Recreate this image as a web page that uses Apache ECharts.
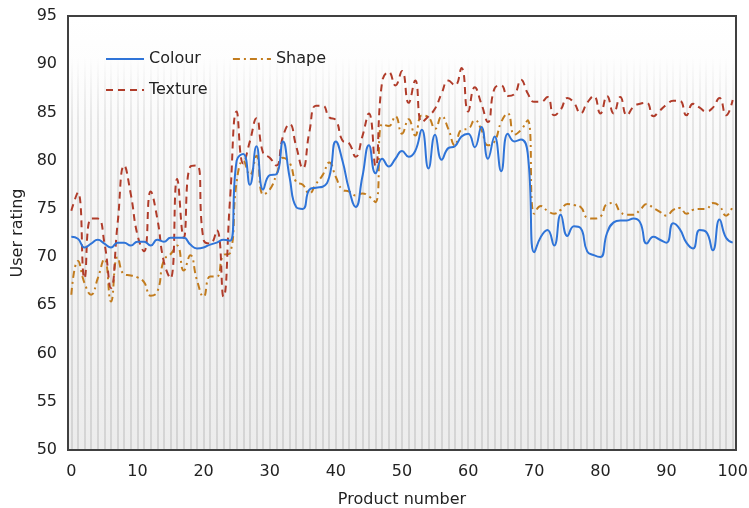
<!DOCTYPE html>
<html>
<head>
<meta charset="utf-8">
<script src="https://cdn.jsdelivr.net/npm/echarts@6/dist/echarts.min.js"></script>
<style>
html,body{margin:0;padding:0;background:#fff;}
#chart{width:749px;height:508px;}
</style>
</head>
<body>
<div id="chart"></div>
<script>
const categories = Array.from({length: 101}, (_, i) => String(i));

const colour = [
72.1,71.9,71.0,71.4,71.8,71.4,71.0,71.5,71.5,71.2,
71.6,71.6,71.2,71.8,71.6,72.0,72.0,72.0,71.3,70.9,
71.0,71.3,71.5,71.8,71.7,80.0,80.7,77.5,81.5,77.0,
78.5,78.6,82.0,78.3,75.2,75.0,77.0,77.2,77.3,78.3,
82.0,80.0,77.0,75.2,78.3,81.6,78.7,80.2,79.4,80.2,
81.0,80.4,81.0,83.2,79.2,82.7,80.1,81.3,81.5,82.5,
82.8,81.4,83.5,80.2,82.5,78.9,82.8,82.0,82.2,80.8,
70.5,72.1,72.8,71.2,74.4,72.2,73.2,73.0,70.6,70.2,
70.0,72.5,73.6,73.8,73.8,74.0,73.6,71.4,72.1,71.8,
71.5,73.5,72.9,71.5,70.9,72.8,72.6,70.7,73.9,72.0,
71.5
];

const shape = [
66.1,69.6,67.3,66.1,67.8,69.8,65.4,70.0,68.2,68.1,
67.9,67.4,66.0,66.4,69.7,70.3,71.2,68.6,70.2,67.6,
65.9,68.0,68.0,70.2,70.4,77.8,80.0,78.5,80.5,76.5,
77.0,78.5,80.3,79.8,77.8,77.5,76.6,77.6,78.5,79.8,
78.3,77.0,76.8,76.4,76.6,76.3,75.7,83.8,83.6,84.6,
82.8,84.3,82.6,84.7,84.5,83.3,84.6,83.3,81.6,83.2,
83.3,84.2,83.2,81.6,82.0,84.0,84.9,82.7,83.2,84.2,
74.5,75.3,74.8,74.5,74.9,75.5,75.4,75.2,74.1,74.0,
74.2,75.5,75.6,74.7,74.4,74.4,74.9,75.5,75.1,74.7,
74.3,74.9,75.1,74.5,74.9,75.0,75.0,75.6,75.3,74.3,
75.3
];

const texture = [
74.8,76.7,67.8,74.0,74.0,71.5,66.8,73.5,79.5,76.5,
72.3,70.6,76.8,74.0,69.5,67.8,78.1,72.0,79.4,79.5,
71.8,71.4,72.8,65.9,76.0,85.1,79.7,82.0,84.4,80.8,
80.3,79.5,82.5,83.8,81.5,79.2,83.0,85.7,85.7,84.5,
84.2,82.1,81.8,80.4,82.5,84.9,79.4,88.2,89.2,87.8,
89.3,86.0,88.3,84.0,84.6,85.4,87.0,88.3,87.8,89.6,
85.1,87.6,85.9,84.0,87.5,87.8,86.7,86.9,88.4,87.0,
86.1,86.1,86.6,84.7,85.3,86.5,86.0,84.9,86.0,86.7,
84.9,86.7,84.9,86.6,84.7,85.6,85.9,86.0,84.6,85.2,
85.8,86.2,86.2,84.7,85.9,85.5,85.1,85.5,86.5,84.7,
86.3
];

const yTicks = {min: 50, max: 95, step: 5};
const xLabelEvery = 10;

const FONT = 'DejaVu Sans';
const chart = echarts.init(document.getElementById('chart'), null, {renderer: 'canvas'});

const legendCommon = {
  padding: 0,
  itemWidth: 38, itemHeight: 14,
  itemStyle: {color: 'rgba(0,0,0,0)', borderWidth: 0, opacity: 0},
  textStyle: {fontFamily: FONT, fontSize: 16, color: '#222'}
};

const option = {
  animation: false,
  backgroundColor: '#ffffff',
  textStyle: {fontFamily: FONT},
  grid: {
    left: 68, right: 13, top: 16, bottom: 58,
    outerBoundsMode: 'none',
    containLabel: false,
    show: true,
    borderColor: '#404040',
    borderWidth: 2,
    backgroundColor: new echarts.graphic.LinearGradient(0, 0, 0, 1, [
      {offset: 0, color: '#ffffff'},
      {offset: 0.12, color: '#fdfdfd'},
      {offset: 1, color: '#ececec'}
    ])
  },
  legend: [
    Object.assign({}, legendCommon, {
      data: ['Colour', 'Shape'],
      left: 105, top: 51, itemGap: 31
    }),
    Object.assign({}, legendCommon, {
      data: ['Texture'],
      left: 105, top: 82
    })
  ],
  xAxis: {
    type: 'category',
    data: categories,
    boundaryGap: true,
    name: 'Product number',
    nameLocation: 'middle',
    nameGap: 42,
    nameTextStyle: {fontFamily: FONT, fontSize: 16, color: '#222'},
    axisLine: {show: true, lineStyle: {color: '#404040', width: 2}},
    axisTick: {show: false},
    axisLabel: {
      interval: xLabelEvery - 1,
      margin: 14,
      fontFamily: FONT, fontSize: 16, color: '#222'
    },
    splitLine: {
      show: true,
      interval: 0,
      alignWithLabel: true,
      lineStyle: {
        width: 2,
        color: new echarts.graphic.LinearGradient(0, 0, 0, 1, [
          {offset: 0, color: 'rgba(215,215,215,0)'},
          {offset: 0.1, color: 'rgba(215,215,215,0)'},
          {offset: 0.25, color: 'rgba(215,215,215,0.6)'},
          {offset: 1, color: 'rgba(212,212,212,1)'}
        ])
      }
    }
  },
  yAxis: {
    type: 'value',
    min: yTicks.min, max: yTicks.max, interval: yTicks.step,
    name: 'User rating',
    nameLocation: 'middle',
    nameGap: 38,
    nameTextStyle: {fontFamily: FONT, fontSize: 16, color: '#222'},
    axisLine: {show: true, lineStyle: {color: '#404040', width: 2}},
    axisTick: {show: false},
    axisLabel: {margin: 11, fontFamily: FONT, fontSize: 16, color: '#222'},
    splitLine: {show: false}
  },
  series: [
    {
      name: 'Colour', type: 'line', data: colour,
      smooth: 0.5, symbol: 'none', z: 4,
      lineStyle: {color: '#2f74d8', width: 2},
      itemStyle: {color: '#2f74d8'}
    },
    {
      name: 'Shape', type: 'line', data: shape,
      smooth: 0.5, symbol: 'none', z: 3,
      lineStyle: {color: '#c27c1e', width: 2, type: [7, 4, 2, 4]},
      itemStyle: {color: '#c27c1e'}
    },
    {
      name: 'Texture', type: 'line', data: texture,
      smooth: 0.5, symbol: 'none', z: 3,
      lineStyle: {color: '#b03c2a', width: 2, type: [7, 5]},
      itemStyle: {color: '#b03c2a'}
    }
  ]
};
chart.setOption(option);
</script>
</body>
</html>
